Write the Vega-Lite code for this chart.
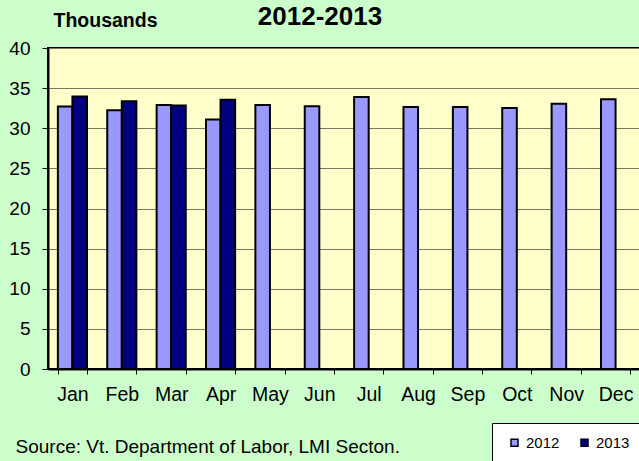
{
  "$schema": "https://vega.github.io/schema/vega-lite/v6.json",
  "width": 592,
  "height": 321,
  "autosize": "none",
  "padding": {"left": 48, "top": 48, "right": 0, "bottom": 92},
  "background": "#CCFFCC",
  "config": {
    "font": "Liberation Sans",
    "view": {"fill": "#FFFFCC", "stroke": "#000000", "strokeWidth": 2}
  },
  "title": {
    "text": "2012-2013",
    "fontSize": 26,
    "fontWeight": "bold",
    "font": "Liberation Sans",
    "color": "#000000",
    "anchor": "middle",
    "frame": "group",
    "baseline": "alphabetic",
    "dx": -24,
    "dy": 41,
    "offset": 0
  },
  "data": {
    "values": [
      {"month": "Jan", "year": "2012", "value": 32.7},
      {"month": "Feb", "year": "2012", "value": 32.25},
      {"month": "Mar", "year": "2012", "value": 32.9},
      {"month": "Apr", "year": "2012", "value": 31.1},
      {"month": "May", "year": "2012", "value": 32.9},
      {"month": "Jun", "year": "2012", "value": 32.75},
      {"month": "Jul", "year": "2012", "value": 33.9},
      {"month": "Aug", "year": "2012", "value": 32.65},
      {"month": "Sep", "year": "2012", "value": 32.65},
      {"month": "Oct", "year": "2012", "value": 32.52},
      {"month": "Nov", "year": "2012", "value": 33.05},
      {"month": "Dec", "year": "2012", "value": 33.6},
      {"month": "Jan", "year": "2013", "value": 33.95},
      {"month": "Feb", "year": "2013", "value": 33.35},
      {"month": "Mar", "year": "2013", "value": 32.85},
      {"month": "Apr", "year": "2013", "value": 33.55}
    ]
  },
  "mark": {"type": "bar", "stroke": "#000000", "strokeWidth": 2},
  "encoding": {
    "x": {
      "field": "month",
      "type": "ordinal",
      "sort": ["Jan","Feb","Mar","Apr","May","Jun","Jul","Aug","Sep","Oct","Nov","Dec"],
      "scale": {"domain": ["Jan","Feb","Mar","Apr","May","Jun","Jul","Aug","Sep","Oct","Nov","Dec"], "paddingInner": 0.41, "paddingOuter": 0.2},
      "axis": {
        "title": "Source: Vt. Department of Labor, LMI Secton.",
        "titleFontSize": 19,
        "titleFontWeight": "normal",
        "titleColor": "#000000",
        "titleAnchor": "start",
        "titleAlign": "left",
        "titleBaseline": "alphabetic",
        "titleX": -33,
        "titleY": 83,
        "labelAngle": 0,
        "labelFontSize": 19.5,
        "labelColor": "#000000",
        "labelPadding": 11,
        "tickBand": "extent",
        "tickSize": 5,
        "tickColor": "#000000",
        "tickWidth": 1,
        "domainColor": "#000000",
        "domainWidth": 2,
        "grid": false
      }
    },
    "xOffset": {
      "field": "year",
      "type": "nominal",
      "scale": {"domain": ["2012", "2013"], "paddingInner": 0, "paddingOuter": 0}
    },
    "y": {
      "field": "value",
      "type": "quantitative",
      "scale": {"domain": [0, 40], "nice": false},
      "axis": {
        "values": [0, 5, 10, 15, 20, 25, 30, 35, 40],
        "title": "Thousands",
        "titleFontSize": 19.5,
        "titleFontWeight": "bold",
        "titleColor": "#000000",
        "titleAngle": 0,
        "titleAlign": "left",
        "titleBaseline": "alphabetic",
        "titleX": 5,
        "titleY": -22,
        "labelFontSize": 19,
        "labelColor": "#000000",
        "labelPadding": 12,
        "tickSize": 6,
        "tickColor": "#000000",
        "tickWidth": 1,
        "domainColor": "#000000",
        "domainWidth": 2,
        "grid": true,
        "gridColor": "#77775f",
        "gridWidth": 1.2
      }
    },
    "color": {
      "field": "year",
      "type": "nominal",
      "scale": {"domain": ["2012", "2013"], "range": ["#9999FF", "#000080"]},
      "legend": {
        "orient": "none",
        "legendX": 444,
        "legendY": 375,
        "direction": "horizontal",
        "title": " ",
        "titleOrient": "left",
        "titleFontSize": 10,
        "titlePadding": 3,
        "fillColor": "#FFFFFF",
        "strokeColor": "#000000",
        "padding": 12,
        "symbolType": "square",
        "symbolSize": 49,
        "symbolStrokeColor": "#000000",
        "symbolStrokeWidth": 1.5,
        "labelFontSize": 15,
        "labelColor": "#000000",
        "labelOffset": 4,
        "columnPadding": 17
      }
    }
  }
}
